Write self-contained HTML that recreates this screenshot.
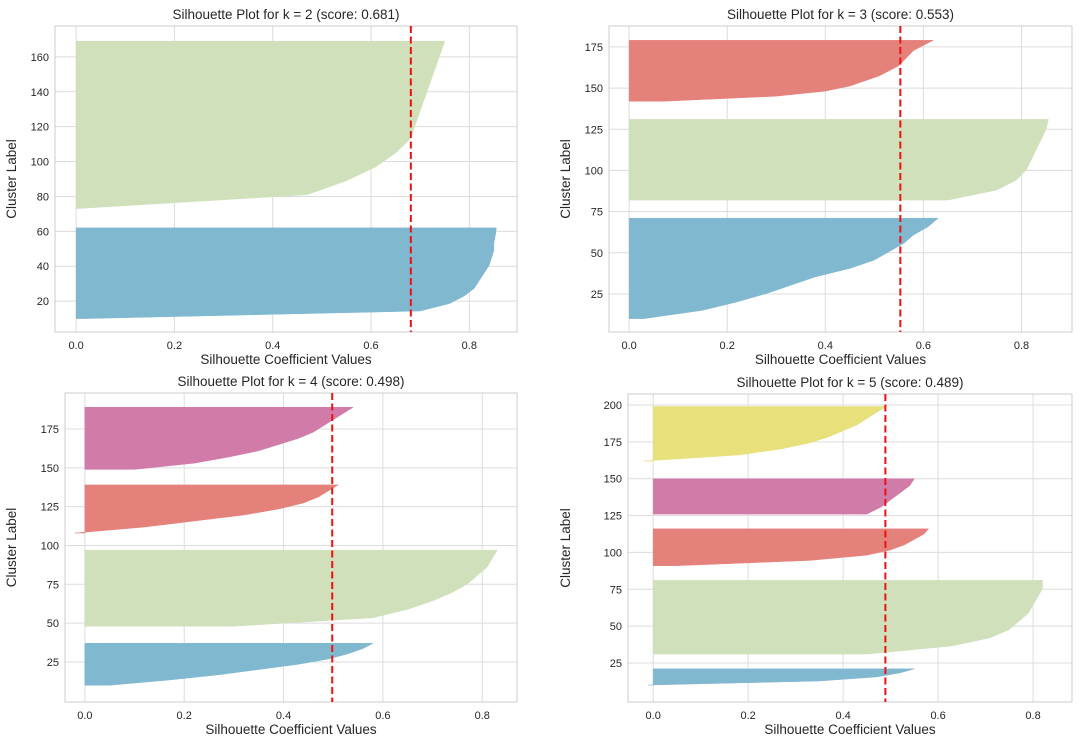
<!DOCTYPE html>
<html><head><meta charset="utf-8"><style>
body{margin:0;background:#fff;font-family:"Liberation Sans",sans-serif}
svg text{font-family:"Liberation Sans",sans-serif;fill:#262626}
</style></head><body>
<svg id="c" width="1080" height="746"></svg>
<script>
const scores=[0.681,0.553,0.498,0.489];
const kValues=[2,3,4,5];
const xTicks=[0,0.2,0.4,0.6,0.8];
const yTicks1=[20,40,60,80,100,120,140,160];
const yTicks2=[25,50,75,100,125,150,175];
const yTicks3=[25,50,75,100,125,150,175];
const yTicks4=[25,50,75,100,125,150,175,200];
// cluster starts / ends (y) and ascending silhouette samples (bottom->top, evenly spaced in y)
const k2Starts=[10,73], k2Ends=[62,169];
const k2Vals=[[0.02,0.7,0.76,0.79,0.81,0.82,0.83,0.84,0.845,0.85,0.85,0.853,0.855],
 [0.0,0.47,0.55,0.61,0.65,0.68,0.69,0.70,0.71,0.72,0.73,0.74,0.75]];
const k3Starts=[10,82,142], k3Ends=[71,131,179];
const k3Vals=[[0.03,0.15,0.22,0.28,0.33,0.38,0.45,0.5,0.53,0.56,0.58,0.61,0.63],
 [0.65,0.75,0.79,0.81,0.82,0.83,0.84,0.85,0.855],
 [0.07,0.3,0.4,0.45,0.48,0.51,0.53,0.55,0.56,0.57,0.58,0.6,0.62]];
const k4Starts=[10,48,108,149], k4Ends=[37,97,139,189];
const k4Vals=[[0.05,0.17,0.27,0.35,0.43,0.49,0.53,0.56,0.58],
 [0.3,0.58,0.65,0.7,0.74,0.77,0.79,0.81,0.82,0.83],
 [-0.02,0.12,0.22,0.32,0.39,0.44,0.47,0.49,0.51],
 [0.1,0.22,0.29,0.35,0.39,0.43,0.46,0.48,0.5,0.52,0.54]];
const k5Starts=[10,31,91,126,162], k5Ends=[21,81,116,150,199];
const k5Vals=[[-0.01,0.35,0.47,0.52,0.55],
 [0.45,0.63,0.71,0.75,0.77,0.79,0.8,0.81,0.82,0.82],
 [0.05,0.33,0.45,0.5,0.53,0.55,0.57,0.58],
 [0.45,0.48,0.5,0.52,0.54,0.55],
 [-0.02,0.18,0.27,0.33,0.37,0.4,0.43,0.45,0.47,0.49]];
const colors2=['#80b8d0','#cfe0bb'];
const colors3=['#80b8d0','#cfe0bb','#e5817b'];
const colors4=['#80b8d0','#cfe0bb','#e5817b','#d07ba8'];
const colors5=['#80b8d0','#cfe0bb','#e5817b','#d07ba8','#e8e07b'];
const panels=[
 {box:[55,26,517,332],x:[-0.043,0.897],y:[2.3,177.7],yt:yTicks1,s:k2Starts,e:k2Ends,v:k2Vals,c:colors2},
 {box:[609,26,1072,332],x:[-0.041,0.903],y:[1.9,187.7],yt:yTicks2,s:k3Starts,e:k3Ends,v:k3Vals,c:colors3},
 {box:[65,393,517,702],x:[-0.04,0.87],y:[-0.8,198.2],yt:yTicks3,s:k4Starts,e:k4Ends,v:k4Vals,c:colors4},
 {box:[628,394,1072,702],x:[-0.053,0.882],y:[-1.5,207.5],yt:yTicks4,s:k5Starts,e:k5Ends,v:k5Vals,c:colors5}];
const NS='http://www.w3.org/2000/svg', svg=document.getElementById('c');
function mk(t,a,p){const e=document.createElementNS(NS,t);for(const k in a)e.setAttribute(k,a[k]);(p||svg).appendChild(e);return e;}
panels.forEach((p,i)=>{
 const [x0,y0,x1,y1]=p.box;
 const g=mk('g',{});
 
 
 const sx=v=>x0+(v-p.x[0])/(p.x[1]-p.x[0])*(x1-x0);
 const sy=v=>y1-(v-p.y[0])/(p.y[1]-p.y[0])*(y1-y0);
 xTicks.forEach(t=>{const X=sx(t);
  const l=mk('line',{x1:X,x2:X,y1:y0,y2:y1,stroke:'#dcdcdc','stroke-width':1},g);
  
  const tx=mk('text',{x:X,y:y1+17,'text-anchor':'middle','font-size':11},g);tx.textContent=t.toFixed(1);
  });
 p.yt.forEach(t=>{const Y=sy(t);
  const l=mk('line',{x1:x0,x2:x1,y1:Y,y2:Y,stroke:'#dcdcdc','stroke-width':1},g);
  
  const tx=mk('text',{x:x0-6,y:Y+4,'text-anchor':'end','font-size':11},g);tx.textContent=t;
  });
 p.v.forEach((vals,j)=>{
  const a=p.s[j],b=p.e[j],h=(b-a)/(vals.length-1);
  let d='M'+sx(0)+','+sy(a);
  vals.forEach((v,n)=>{d+=' L'+sx(v)+','+sy(a+n*h);});
  d+=' L'+sx(0)+','+sy(b)+'Z';
  const pa=mk('path',{d:d,fill:p.c[j],stroke:p.c[j],'stroke-width':0.5},g);
  });
 const r=mk('rect',{x:x0,y:y0,width:x1-x0,height:y1-y0,fill:'none',stroke:'#cccccc','stroke-width':1},g);
 
 const sl=mk('line',{x1:sx(scores[i]),x2:sx(scores[i]),y1:y0,y2:y1,stroke:'#ee1111','stroke-width':2,'stroke-dasharray':'7,3.5'},g);
 
 const ti=mk('text',{x:(x0+x1)/2,y:y0-7,'text-anchor':'middle','font-size':13.5},g);
 ti.textContent='Silhouette Plot for k = '+kValues[i]+' (score: '+scores[i].toFixed(3)+')';
 
 const xl=mk('text',{x:(x0+x1)/2,y:y1+32,'text-anchor':'middle','font-size':13.5},g);
 xl.textContent='Silhouette Coefficient Values';
 
 const yc=(y0+y1)/2,yx=(i%2==0?16:570);
 const yl=mk('text',{x:yx,y:yc,'text-anchor':'middle','font-size':13.5,transform:'rotate(-90 '+yx+' '+yc+')'},g);
 yl.textContent='Cluster Label';
 
});
</script>
</body></html>
